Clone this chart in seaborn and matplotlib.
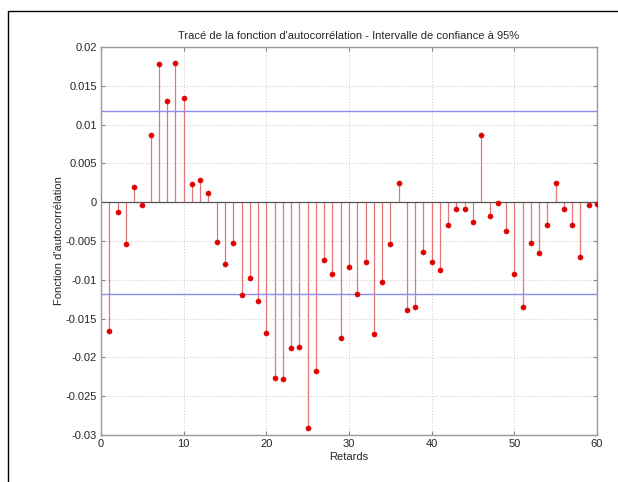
import numpy as np
import pandas as pd
import matplotlib
matplotlib.use("Agg")
import matplotlib.pyplot as plt
import seaborn as sns

# autocorrelation values, lags 1..60
lags = list(range(1, 61))
acf = [
    -0.0166, -0.0012, -0.0054, 0.0020, -0.0004, 0.0086, 0.0178, 0.0131, 0.0179, 0.0134,
    0.0024, 0.0028, 0.0012, -0.0051, -0.0079, -0.0053, -0.0119, -0.0098, -0.0127, -0.0169,
    -0.0226, -0.0228, -0.0188, -0.0186, -0.0291, -0.0217, -0.0074, -0.0092, -0.0175, -0.0084,
    -0.0118, -0.0077, -0.0170, -0.0103, -0.0054, 0.0025, -0.0139, -0.0135, -0.0064, -0.0077,
    -0.0088, -0.0029, -0.0009, -0.0009, -0.0026, 0.0086, -0.0018, -0.0001, -0.0037, -0.0093,
    -0.0135, -0.0053, -0.0066, -0.0029, 0.0025, -0.0009, -0.0030, -0.0070, -0.0003, -0.0002,
]
conf_bound = 0.0118

x_ticks = [0, 10, 20, 30, 40, 50, 60]
y_ticks = [-0.03, -0.025, -0.02, -0.015, -0.01, -0.005, 0, 0.005, 0.01, 0.015, 0.02]
y_labels = ["-0.03", "-0.025", "-0.02", "-0.015", "-0.01", "-0.005", "0",
            "0.005", "0.01", "0.015", "0.02"]

df = pd.DataFrame({"lag": lags, "acf": acf})

sns.set_style("white")
plt.rcParams["font.family"] = ["Liberation Sans", "DejaVu Sans"]

fig, ax = plt.subplots(figsize=(6.18, 4.82), dpi=100)
fig.subplots_adjust(left=0.1634, right=0.966, top=0.9025, bottom=0.0975)

# outer frame (top and left only, like the reference scan)
fig.add_artist(plt.Line2D([8 / 618, 1.0], [1 - 11 / 482, 1 - 11 / 482],
                          transform=fig.transFigure, color="black", lw=1.0))
fig.add_artist(plt.Line2D([8 / 618, 8 / 618], [0.0, 1 - 11 / 482],
                          transform=fig.transFigure, color="black", lw=1.0))

ax.grid(True, color="#d0d0d0", linestyle=":", linewidth=0.8)
ax.set_axisbelow(True)

ax.vlines(df["lag"], 0, df["acf"], color="#e07878", linewidth=0.9, zorder=2)
ax.axhline(0, color="#555555", linewidth=0.9, zorder=2)
ax.axhline(conf_bound, color="#8c8cf0", linewidth=1.0, zorder=2)
ax.axhline(-conf_bound, color="#8c8cf0", linewidth=1.0, zorder=2)
sns.scatterplot(data=df, x="lag", y="acf", ax=ax, color="#e00000", s=14,
                edgecolor="#e00000", linewidth=0.3, zorder=3, legend=False)

ax.set_xlim(0, 60)
ax.set_ylim(-0.03, 0.02)
ax.set_xticks(x_ticks)
ax.set_yticks(y_ticks)
ax.set_yticklabels(y_labels)
ax.tick_params(direction="in", length=3, labelsize=8, color="#888888",
               top=True, right=True, bottom=True, left=True, pad=3)

for side in ax.spines.values():
    side.set_color("#999999")
    side.set_linewidth(1.0)

ax.set_title("Tracé de la fonction d'autocorrélation - Intervalle de confiance à 95%",
             fontsize=8, pad=6)
ax.set_xlabel("Retards", fontsize=8, labelpad=2)
ax.set_ylabel("Fonction d'autocorrélation", fontsize=8, labelpad=1)

fig.savefig("out.png", dpi=100)
